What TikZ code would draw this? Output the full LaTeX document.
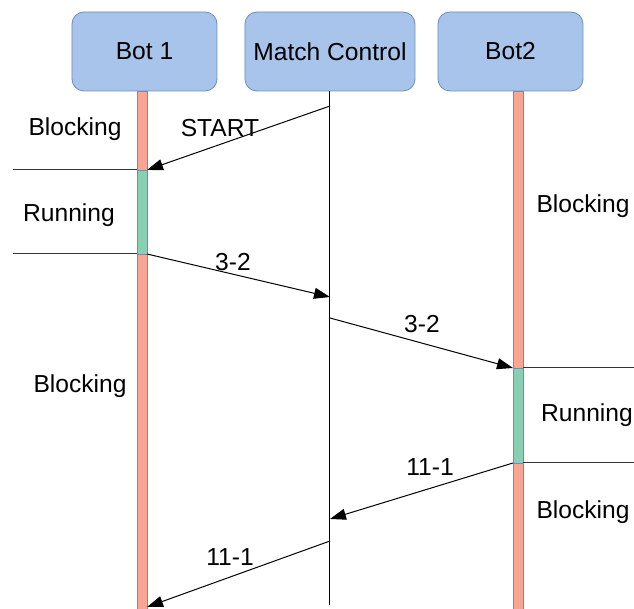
\documentclass[tikz,border=0pt]{standalone}
\usepackage{fontspec}
\setmainfont{Liberation Sans}
\usetikzlibrary{arrows.meta,positioning}
\definecolor{boxfill}{HTML}{A9C4EB}
\definecolor{boxline}{HTML}{6C8EBF}
\definecolor{blockred}{HTML}{F8A593}
\definecolor{runcolor}{HTML}{88CFB4}

\begin{document}
\begin{tikzpicture}[
    x=0.5pt, y=-0.5pt,
    actor/.style={draw=boxline, fill=boxfill, rounded corners=6pt, minimum height=39.5pt, font=\fontsize{12.3}{14}\selectfont, inner sep=0pt},
    state/.style={font=\fontsize{12.3}{14}\selectfont, inner sep=0pt},
    msg/.style={-{Triangle[length=8pt,width=5.5pt]}, line width=0.5pt},
    cut/.style={line width=0.5pt, draw=black!80}
]
    \useasboundingbox (0,0) rectangle (634,609);

    % Participants
    \node[actor, minimum width=72.5pt] (bot1) at (144.5,51.5) {Bot 1};
    \node[actor, minimum width=85pt] (ctrl) at (330,51.5) {Match Control};
    \node[actor, minimum width=72.5pt] (bot2) at (510.5,51.5) {Bot2};

    % Lifelines
    \draw[draw=boxline, fill=blockred, line width=0.4pt] (137,91) rectangle (147,609);
    \draw[draw=boxline, fill=blockred, line width=0.4pt] (513,91) rectangle (523,609);
    \draw[draw=boxline, fill=runcolor, line width=0.4pt] (137,170) rectangle (147,254);
    \draw[draw=boxline, fill=runcolor, line width=0.4pt] (513,368) rectangle (523,463);
    \coordinate (ctrlend) at (330,605);
    \draw[line width=0.5pt] (ctrl.south) -- (ctrlend);

    % Phase boundaries
    \coordinate (b1a) at (137,170);
    \coordinate (b1b) at (137,254);
    \coordinate (b2a) at (523,368);
    \coordinate (b2b) at (523,463);
    \coordinate (la) at (13,170);
    \coordinate (lb) at (13,254);
    \coordinate (ra) at (634,368);
    \coordinate (rb) at (634,463);
    \draw[cut] (la) -- (b1a);
    \draw[cut] (lb) -- (b1b);
    \draw[cut] (b2a) -- (ra);
    \draw[cut] (b2b) -- (rb);

    % Message points
    \coordinate (c1) at (330,106);
    \coordinate (t1) at (147,170);
    \coordinate (f2) at (147,254);
    \coordinate (c2) at (330,297);
    \coordinate (c3) at (330,318);
    \coordinate (t3) at (513,368);
    \coordinate (f4) at (513,463);
    \coordinate (c4) at (330,519);
    \coordinate (c5) at (330,541);
    \coordinate (t5) at (147,607);

    % Messages
    \draw[msg] (c1) -- (t1);
    \draw[msg] (f2) -- (c2);
    \draw[msg] (c3) -- (t3);
    \draw[msg] (f4) -- (c4);
    \draw[msg] (c5) -- (t5);
    \node[state] (m1) at (220,128) {START};
    \node[state] (m2) at (233,262) {3-2};
    \node[state] (m3) at (422,324) {3-2};
    \node[state] (m4) at (430,467) {11-1};
    \node[state] (m5) at (230,557) {11-1};

    % States
    \node[state] (s1) at (75,129) {Blocking};
    \node[state] (s2) at (69,215) {Running};
    \node[state] (s3) at (80,386) {Blocking};
    \node[state] (s4) at (583,206) {Blocking};
    \node[state] (s5) at (587,415) {Running};
    \node[state] (s6) at (583,512) {Blocking};
\end{tikzpicture}
\end{document}
